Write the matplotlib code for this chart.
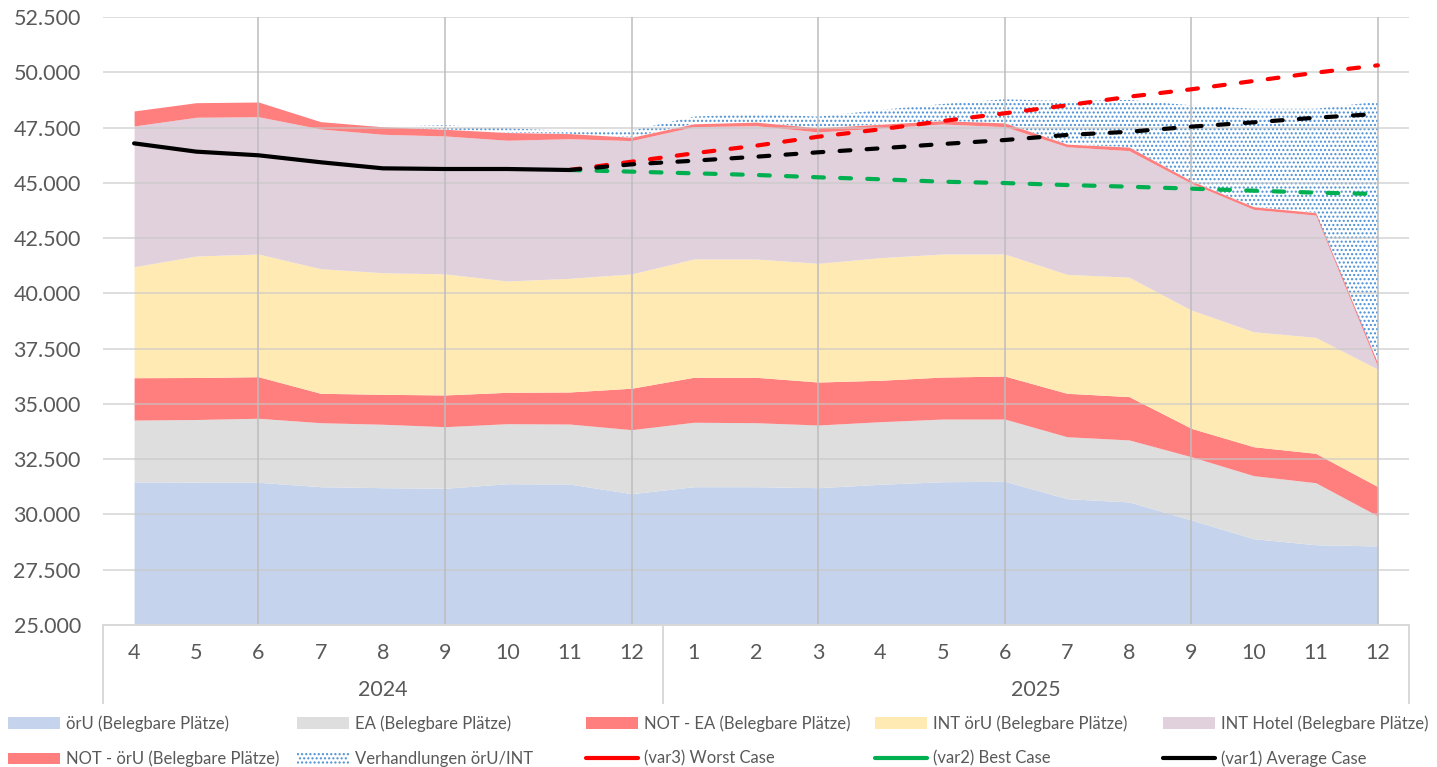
import numpy as np
import matplotlib
matplotlib.use("Agg")
from matplotlib import pyplot as plt
from matplotlib.patches import Patch
from matplotlib.lines import Line2D
from matplotlib.ticker import FuncFormatter
import matplotlib.transforms as mtransforms

plt.rcParams['font.family'] = ['Lato', 'DejaVu Sans']
plt.rcParams['hatch.linewidth'] = 1.0

# Data
months = ['4', '5', '6', '7', '8', '9', '10', '11', '12',
          '1', '2', '3', '4', '5', '6', '7', '8', '9', '10', '11', '12']
years = ['2024', '2025']
oru = [31470, 31460, 31455, 31255, 31210, 31185, 31390, 31375, 30940, 31255, 31255,
       31210, 31365, 31480, 31500, 30715, 30565, 29750, 28905, 28630, 28575]
ea = [2800, 2835, 2895, 2895, 2870, 2785, 2715, 2715, 2895, 2915, 2895,
      2835, 2830, 2835, 2815, 2800, 2805, 2860, 2850, 2805, 1355]
not_ea = [1915, 1900, 1880, 1330, 1355, 1435, 1420, 1450, 1875, 2035, 2055,
          1945, 1875, 1900, 1945, 1965, 1960, 1285, 1310, 1330, 1325]
int_oru = [5020, 5495, 5550, 5635, 5500, 5475, 5035, 5140, 5170, 5350, 5350,
           5370, 5545, 5565, 5520, 5380, 5400, 5350, 5200, 5245, 5310]
int_hotel = [6365, 6275, 6210, 6320, 6260, 6240, 6365, 6315, 6030, 5985, 6030,
             5940, 5865, 5880, 5760, 5770, 5725, 5730, 5535, 5530, 100]
not_oru = [680, 660, 665, 330, 340, 300, 350, 230, 150, 130, 160,
           190, 170, 150, 170, 120, 160, 110, 120, 110, 150]
verhandlungen = [0, 0, 0, 0, 0, 185, 195, 120, 305, 325, 370,
                 505, 645, 755, 1070, 1945, 2135, 3420, 4430, 4700, 11855]

nan = np.nan
worst_case = [nan] * 7 + [45580, 45955, 46335, 46680, 47085, 47420, 47795,
                          48145, 48505, 48895, 49230, 49605, 49980, 50315]
best_case = [nan] * 7 + [45580, 45505, 45430, 45355, 45250, 45160, 45050,
                         44990, 44900, 44825, 44735, 44645, 44555, 44495]
avg_case = [46785, 46410, 46245, 45930, 45655, 45625, 45625, 45580, 45835, 46000, 46180,
            46380, 46560, 46755, 46935, 47165, 47310, 47540, 47735, 47945, 48115]
last_actual = 7

series = [
    ('örU (Belegbare Plätze)', oru, '#C5D4EC'),
    ('EA (Belegbare Plätze)', ea, '#DEDEDE'),
    ('NOT - EA (Belegbare Plätze)', not_ea, '#FF7F7F'),
    ('INT örU (Belegbare Plätze)', int_oru, '#FFEAB3'),
    ('INT Hotel (Belegbare Plätze)', int_hotel, '#E0D1DD'),
    ('NOT - örU (Belegbare Plätze)', not_oru, '#FF7F7F'),
]
dot_color = '#4A8FD6'
text_color = '#595959'

x = np.arange(len(months))
fig = plt.figure(figsize=(14.37, 7.67), dpi=100)
ax = fig.add_axes([103 / 1437, 1 - 625 / 767, (1409 - 103) / 1437, (625 - 17) / 767])

# stacked areas (first one starts at the axis floor)
handles = {}
bottom = np.full(len(x), 25000.0)
total = np.zeros(len(x))
for name, vals, col in series:
    total = total + np.array(vals, dtype=float)
    ax.fill_between(x, bottom, total, color=col, linewidth=0, zorder=1)
    handles[name] = Patch(facecolor=col, edgecolor='none')
    bottom = total

top = total + np.array(verhandlungen, dtype=float)
ax.fill_between(x, total, top, facecolor='none', edgecolor=dot_color,
                hatch='....', linewidth=0, zorder=1)
handles['Verhandlungen örU/INT'] = Patch(facecolor='none', edgecolor=dot_color,
                                         hatch='....', linewidth=0)

# grid on top of the areas
for v in np.arange(25000, 52501, 2500):
    ax.axhline(v, color='#C8C8C8', lw=1.4, alpha=0.6, zorder=2)
for xv in [2, 5, 8, 11, 14, 17, 20]:
    ax.axvline(xv, color='#BDBDBD', lw=1.3, alpha=0.85, zorder=2)

lw = 3.0
dash = (2.6, 3.9)
ax.plot(x, worst_case, color='#FF0000', lw=lw, dashes=dash, dash_capstyle='round', zorder=4)
ax.plot(x, best_case, color='#00B050', lw=lw, dashes=dash, dash_capstyle='round', zorder=4)
ax.plot(x[last_actual:], avg_case[last_actual:], color='black', lw=lw, dashes=dash,
        dash_capstyle='round', zorder=5)
ax.plot(x[:last_actual + 1], avg_case[:last_actual + 1], color='black', lw=lw,
        solid_capstyle='round', zorder=5)
handles['(var3) Worst Case'] = Line2D([], [], color='#FF0000', lw=lw, solid_capstyle='round')
handles['(var2) Best Case'] = Line2D([], [], color='#00B050', lw=lw, solid_capstyle='round')
handles['(var1) Average Case'] = Line2D([], [], color='black', lw=lw, solid_capstyle='round')

ax.set_xlim(-0.5, 20.5)
ax.set_ylim(25000, 52500)
ax.set_yticks(np.arange(25000, 52501, 2500))
ax.yaxis.set_major_formatter(FuncFormatter(lambda v, p: f'{v:,.0f}'.replace(',', '.')))
ax.set_xticks(x)
ax.set_xticklabels(months)
ax.tick_params(axis='both', length=0, labelsize=15.5, labelcolor=text_color)
ax.tick_params(axis='y', pad=16)
ax.tick_params(axis='x', pad=13)
for s in ['left', 'right', 'top']:
    ax.spines[s].set_visible(False)
ax.spines['bottom'].set_color('#D9D9D9')
ax.spines['bottom'].set_linewidth(1.4)
ax.spines['bottom'].set_zorder(6)

# year grouping below the axis
trans = mtransforms.blended_transform_factory(ax.transData, ax.transAxes)
box_bottom = -(703 - 625) / 608
for xv in [-0.5, 8.5, 20.5]:
    ax.plot([xv, xv], [0, box_bottom], transform=trans, color='#D9D9D9', lw=1.4, clip_on=False)
ax.text(4, -(690 - 625) / 608, years[0], transform=trans, ha='center', va='center',
        fontsize=15.5, color=text_color)
ax.text(14.5, -(690 - 625) / 608, years[1], transform=trans, ha='center', va='center',
        fontsize=15.5, color=text_color)

# legend: five columns placed at fixed positions
columns = [
    ['örU (Belegbare Plätze)', 'NOT - örU (Belegbare Plätze)'],
    ['EA (Belegbare Plätze)', 'Verhandlungen örU/INT'],
    ['NOT - EA (Belegbare Plätze)', '(var3) Worst Case'],
    ['INT örU (Belegbare Plätze)', '(var2) Best Case'],
    ['INT Hotel (Belegbare Plätze)', '(var1) Average Case'],
]
col_x = [8, 297, 586, 875, 1163]
for cx, names in zip(col_x, columns):
    fig.legend([handles[n] for n in names], names, loc='upper left',
               bbox_to_anchor=(cx / 1437, 1 - 715 / 767), frameon=False,
               fontsize=12, labelcolor=text_color, borderpad=0, borderaxespad=0,
               handlelength=3.1, handletextpad=0.4, labelspacing=1.15)

fig.savefig('out.png', dpi=100)
